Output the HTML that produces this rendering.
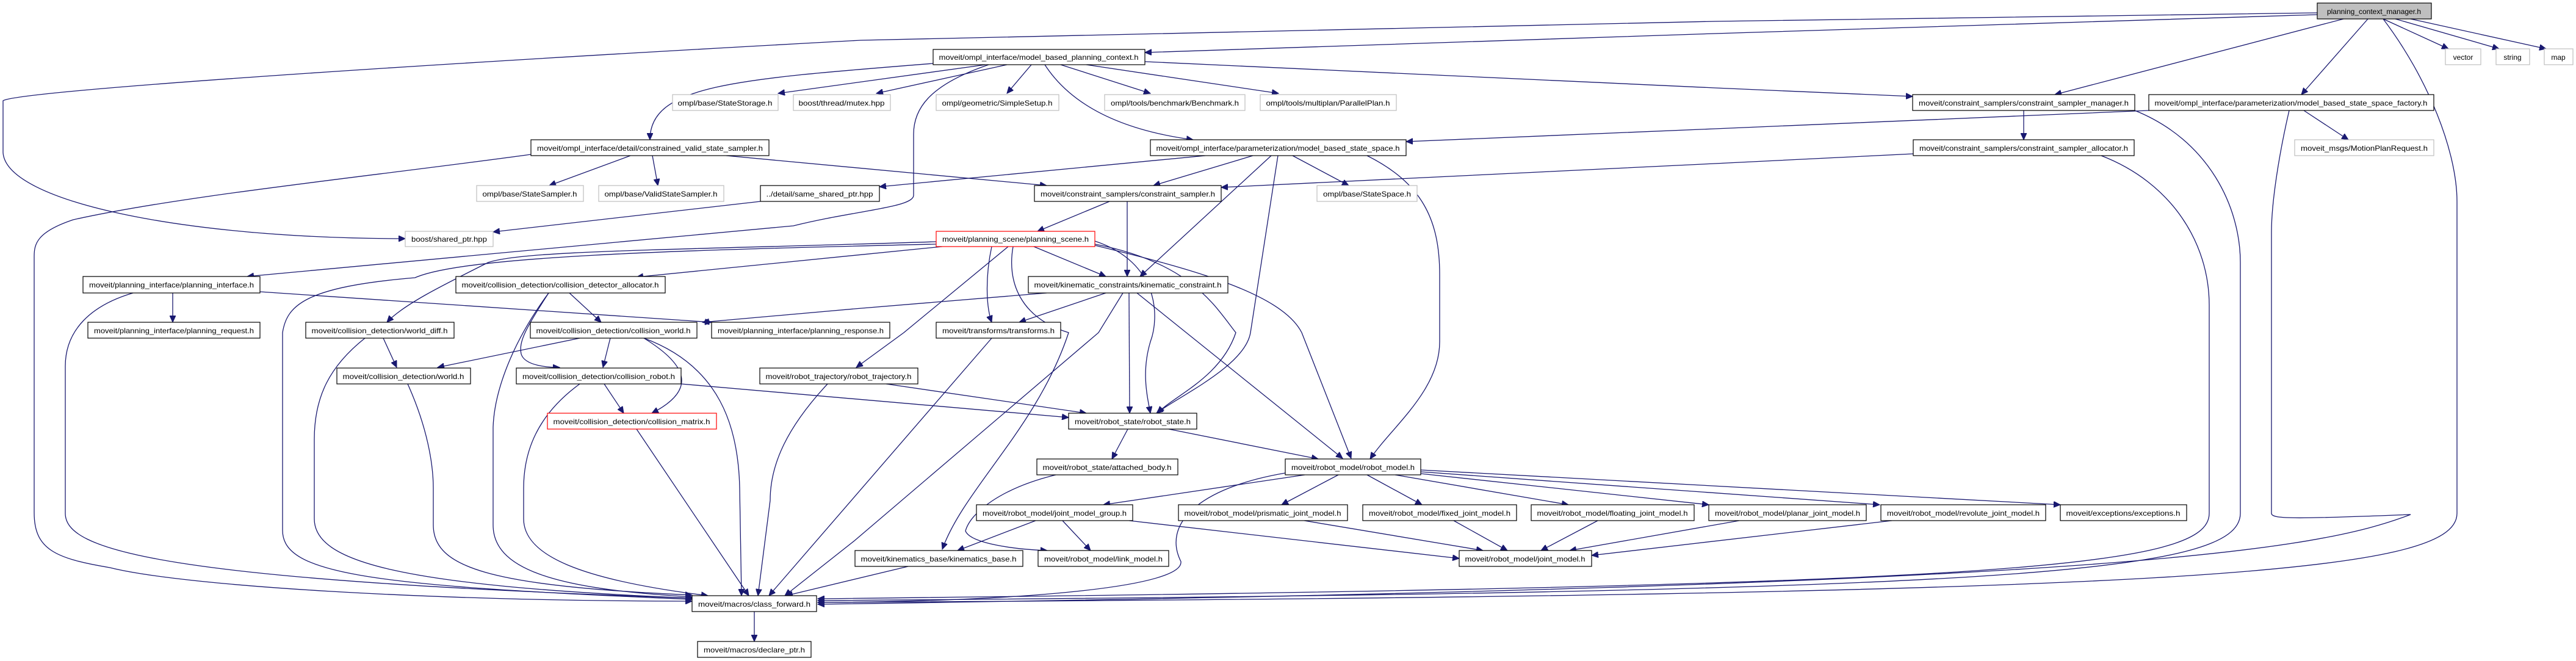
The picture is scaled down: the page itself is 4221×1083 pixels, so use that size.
<!DOCTYPE html>
<html><head><meta charset="utf-8"><style>
html,body{margin:0;padding:0;background:#fff;}
svg{display:block;}
text{font-family:"Liberation Sans",sans-serif;font-size:12px;fill:#000;}
.e{fill:none;stroke:#191970;stroke-width:1.3;}
.n{fill:#fff;stroke:#000;stroke-width:1.2;}
.g{fill:#fff;stroke:#bfbfbf;stroke-width:1.2;}
.r{fill:#fff;stroke:#ff0000;stroke-width:1.2;}
.m{fill:#bfbfbf;stroke:#000;stroke-width:1.2;}
</style></head><body>
<svg width="4221" height="1083" viewBox="0 0 4221 1083" xmlns="http://www.w3.org/2000/svg">
<defs><marker id="a" markerUnits="userSpaceOnUse" markerWidth="12" markerHeight="10" refX="11" refY="5" orient="auto"><path d="M0,0 L11,5 L0,10 z" fill="#191970" stroke="#191970"/></marker></defs>
<g class="e" marker-end="url(#a)">
<!-- PCM edges -->
<path d="M3797,21 L2810,35 L1410,66 C600,110 30,150 5,165 L5,250 C10,330 300,391 664,391"/>
<path d="M3797,24 L2810,55 L1876,86"/>
<path d="M3840,31 L3367,155"/>
<path d="M3880,31 L3771,155"/>
<path d="M3905,31 L4012,80"/>
<path d="M3925,31 L4095,80"/>
<path d="M3950,31 L4172,80"/>
<path d="M3905,31 C3980,130 4026,250 4026,330 L4026,841 C4026,940 3600,975 1340,987"/>
<!-- MBPC -->
<path d="M1529,104 C1200,130 1065,140 1065,229"/>
<path d="M1615,106 L1275,153"/>
<path d="M1650,106 L1436,153"/>
<path d="M1690,106 L1650,153"/>
<path d="M1738,106 L1885,153"/>
<path d="M1780,106 L2095,153"/>
<path d="M1712,106 C1760,180 1850,215 1955,229"/>
<path d="M1876,101 L2810,144 L3134,158"/>
<path d="M1620,106 C1520,140 1497,180 1497,220 L1497,320 C1497,340 1400,345 1300,370 L405,453"/>
<!-- constrained valid -->
<path d="M1033,255 L900,304"/>
<path d="M1069,255 L1078,304"/>
<path d="M1190,255 L1715,304"/>
<path d="M870,253 C600,290 300,320 120,360 C60,380 56,400 56,420 L56,840 C56,900 90,915 180,930 C300,960 700,985 1134,985"/>
<path d="M1246,330 L808,380"/>
<!-- model_based_state_space -->
<path d="M1975,255 L1441,306"/>
<path d="M2053,255 L1890,304"/>
<path d="M2083,255 L1868,453"/>
<path d="M2118,255 L2210,304"/>
<path d="M2094,255 L2049,545 C2040,600 1930,650 1895,677"/>
<path d="M2240,255 C2330,300 2359,360 2359,450 L2359,560 C2359,640 2280,700 2245,752"/>
<!-- CSM / factory / allocator -->
<path d="M3316,181 L3316,229"/>
<path d="M3498,181 C3620,230 3671,340 3671,430 L3671,841 C3671,940 3300,970 1340,984"/>
<path d="M3443,255 C3560,300 3620,400 3620,500 L3620,841 C3620,930 3300,960 1340,981"/>
<path d="M3751,181 C3735,250 3722,330 3722,380 L3722,841 C3722,850 3750,851 3950,843 C3800,900 3500,960 1340,990"/>
<path d="M3521,181 L2810,211 L2304,232"/>
<path d="M3775,181 L3848,229"/>
<path d="M3135,252 L2810,268 L2001,307"/>
<!-- constraint_sampler -->
<path d="M1818,330 L1700,379"/>
<path d="M1847,330 L1847,453"/>
<!-- planning_scene -->
<path d="M1544,404 L1043,454"/>
<path d="M1534,396 C1100,410 860,410 800,430 C720,470 660,500 634,528"/>
<path d="M1534,400 C1100,410 760,420 680,455 C500,470 470,500 463,545 L463,869 C463,940 600,960 1134,982"/>
<path d="M1625,404 C1615,450 1615,500 1625,528"/>
<path d="M1694,404 L1812,453"/>
<path d="M1652,404 L1481,545 L1403,602"/>
<path d="M1794,395 C1900,430 1900,520 1885,560 C1870,610 1880,650 1885,677"/>
<path d="M1794,400 C1950,430 1990,500 2025,545 C2000,620 1920,650 1897,677"/>
<path d="M1794,402 C1950,440 2100,480 2133,545 L2214,751"/>
<path d="M1660,404 C1650,460 1670,520 1751,545 C1700,700 1580,800 1544,900"/>
<!-- kinematic constraint -->
<path d="M1715,480 L1400,506 L1151,528"/>
<path d="M1812,480 L1670,528"/>
<path d="M1850,480 L1851,677"/>
<path d="M1863,480 L2200,751"/>
<path d="M1840,480 L1800,545 L1400,886 L1286,976"/>
<!-- planning interface -->
<path d="M283,480 L283,528"/>
<path d="M426,478 L1166,528"/>
<path d="M218,480 C150,500 107,540 107,600 L107,841 C107,900 250,950 1134,980"/>
<!-- collision detector allocator -->
<path d="M933,480 L985,528"/>
<path d="M899,480 C860,540 850,560 854,580 C860,600 900,602 917,602"/>
<path d="M899,480 C840,560 810,640 808,700 L808,860 C808,930 900,965 1134,978"/>
<!-- world diff -->
<path d="M628,554 L650,602"/>
<path d="M598,554 C540,600 515,650 515,720 L515,850 C515,920 650,960 1134,980"/>
<!-- collision world -->
<path d="M950,554 L717,602"/>
<path d="M1000,554 L988,602"/>
<path d="M1055,554 C1130,600 1140,640 1068,677"/>
<path d="M1055,554 C1180,600 1210,700 1212,800 L1215,976"/>
<!-- world -->
<path d="M668,629 C700,700 710,760 710,800 L710,860 C710,930 800,960 1134,975"/>
<!-- collision robot -->
<path d="M990,629 L1022,677"/>
<path d="M950,629 C880,680 858,740 858,800 L858,850 C858,910 950,950 1160,976"/>
<path d="M1116,629 L1751,684"/>
<path d="M1043,703 L1227,976"/>
<!-- robot trajectory -->
<path d="M1356,629 C1290,700 1262,760 1262,820 L1242,976"/>
<path d="M1452,629 L1780,677"/>
<path d="M1625,554 L1260,976"/>
<path d="M1488,928 L1288,976"/>
<!-- robot state -->
<path d="M1848,703 L1822,752"/>
<path d="M1915,703 L2160,752"/>
<path d="M1730,778 C1640,800 1590,840 1582,870 C1590,890 1660,900 1716,902"/>
<!-- robot model -->
<path d="M2106,775 C1960,800 1905,860 1935,920 C1940,960 1700,985 1340,987"/>
<path d="M2138,778 L1808,827"/>
<path d="M2193,778 L2100,827"/>
<path d="M2240,778 L2330,827"/>
<path d="M2286,778 L2570,827"/>
<path d="M2328,776 L2800,827"/>
<path d="M2328,773 L3080,827"/>
<path d="M2328,770 L3376,827"/>
<!-- joint model group -->
<path d="M1697,853 L1569,902"/>
<path d="M1741,853 L1787,902"/>
<path d="M1850,853 L2391,915"/>
<path d="M2137,853 L2430,902"/>
<path d="M2382,853 L2470,902"/>
<path d="M2618,853 L2525,902"/>
<path d="M2850,853 L2572,902"/>
<path d="M3100,853 L2608,910"/>
<path d="M1236,1002 L1236,1051"/>
</g>
<g>
<rect class="m" x="3797" y="5" width="187" height="26"/><text x="3890" y="23" text-anchor="middle">planning_context_manager.h</text>
<rect class="n" x="1529" y="81" width="347" height="25"/><text x="1702" y="98" text-anchor="middle" textLength="327" lengthAdjust="spacingAndGlyphs">moveit/ompl_interface/model_based_planning_context.h</text>
<rect class="g" x="4007" y="80" width="58" height="26"/><text x="4036" y="98" text-anchor="middle">vector</text>
<rect class="g" x="4090" y="80" width="55" height="26"/><text x="4117" y="98" text-anchor="middle">string</text>
<rect class="g" x="4169" y="80" width="47" height="26"/><text x="4192" y="98" text-anchor="middle">map</text>

<rect class="g" x="1102" y="155" width="173" height="26"/><text x="1188" y="173" text-anchor="middle" textLength="155" lengthAdjust="spacingAndGlyphs">ompl/base/StateStorage.h</text>
<rect class="g" x="1300" y="155" width="159" height="26"/><text x="1379" y="173" text-anchor="middle" textLength="141" lengthAdjust="spacingAndGlyphs">boost/thread/mutex.hpp</text>
<rect class="g" x="1534" y="155" width="201" height="26"/><text x="1634" y="173" text-anchor="middle" textLength="181" lengthAdjust="spacingAndGlyphs">ompl/geometric/SimpleSetup.h</text>
<rect class="g" x="1810" y="155" width="230" height="26"/><text x="1925" y="173" text-anchor="middle" textLength="210" lengthAdjust="spacingAndGlyphs">ompl/tools/benchmark/Benchmark.h</text>
<rect class="g" x="2065" y="155" width="223" height="26"/><text x="2176" y="173" text-anchor="middle" textLength="203" lengthAdjust="spacingAndGlyphs">ompl/tools/multiplan/ParallelPlan.h</text>
<rect class="n" x="3134" y="155" width="364" height="26"/><text x="3316" y="173" text-anchor="middle" textLength="344" lengthAdjust="spacingAndGlyphs">moveit/constraint_samplers/constraint_sampler_manager.h</text>
<rect class="n" x="3521" y="155" width="467" height="26"/><text x="3754" y="173" text-anchor="middle" textLength="447" lengthAdjust="spacingAndGlyphs">moveit/ompl_interface/parameterization/model_based_state_space_factory.h</text>

<rect class="n" x="870" y="229" width="390" height="26"/><text x="1065" y="247" text-anchor="middle" textLength="370" lengthAdjust="spacingAndGlyphs">moveit/ompl_interface/detail/constrained_valid_state_sampler.h</text>
<rect class="n" x="1885" y="229" width="419" height="26"/><text x="2094" y="247" text-anchor="middle" textLength="399" lengthAdjust="spacingAndGlyphs">moveit/ompl_interface/parameterization/model_based_state_space.h</text>
<rect class="n" x="3135" y="229" width="362" height="26"/><text x="3316" y="247" text-anchor="middle" textLength="342" lengthAdjust="spacingAndGlyphs">moveit/constraint_samplers/constraint_sampler_allocator.h</text>
<rect class="g" x="3760" y="229" width="228" height="26"/><text x="3874" y="247" text-anchor="middle" textLength="208" lengthAdjust="spacingAndGlyphs">moveit_msgs/MotionPlanRequest.h</text>

<rect class="g" x="781" y="304" width="175" height="26"/><text x="868" y="322" text-anchor="middle" textLength="155" lengthAdjust="spacingAndGlyphs">ompl/base/StateSampler.h</text>
<rect class="g" x="981" y="304" width="205" height="26"/><text x="1083" y="322" text-anchor="middle" textLength="185" lengthAdjust="spacingAndGlyphs">ompl/base/ValidStateSampler.h</text>
<rect class="n" x="1246" y="304" width="195" height="26"/><text x="1343" y="322" text-anchor="middle" textLength="175" lengthAdjust="spacingAndGlyphs">../detail/same_shared_ptr.hpp</text>
<rect class="n" x="1695" y="304" width="306" height="26"/><text x="1848" y="322" text-anchor="middle" textLength="286" lengthAdjust="spacingAndGlyphs">moveit/constraint_samplers/constraint_sampler.h</text>
<rect class="g" x="2158" y="304" width="164" height="26"/><text x="2240" y="322" text-anchor="middle" textLength="144" lengthAdjust="spacingAndGlyphs">ompl/base/StateSpace.h</text>

<rect class="g" x="664" y="379" width="144" height="25"/><text x="736" y="396" text-anchor="middle" textLength="124" lengthAdjust="spacingAndGlyphs">boost/shared_ptr.hpp</text>
<rect class="r" x="1534" y="379" width="260" height="25"/><text x="1664" y="396" text-anchor="middle" textLength="240" lengthAdjust="spacingAndGlyphs">moveit/planning_scene/planning_scene.h</text>

<rect class="n" x="136" y="453" width="290" height="27"/><text x="281" y="471" text-anchor="middle" textLength="270" lengthAdjust="spacingAndGlyphs">moveit/planning_interface/planning_interface.h</text>
<rect class="n" x="747" y="453" width="343" height="27"/><text x="918" y="471" text-anchor="middle" textLength="323" lengthAdjust="spacingAndGlyphs">moveit/collision_detection/collision_detector_allocator.h</text>
<rect class="n" x="1685" y="453" width="327" height="27"/><text x="1848" y="471" text-anchor="middle" textLength="307" lengthAdjust="spacingAndGlyphs">moveit/kinematic_constraints/kinematic_constraint.h</text>

<rect class="n" x="144" y="528" width="282" height="26"/><text x="285" y="546" text-anchor="middle" textLength="262" lengthAdjust="spacingAndGlyphs">moveit/planning_interface/planning_request.h</text>
<rect class="n" x="501" y="528" width="243" height="26"/><text x="622" y="546" text-anchor="middle" textLength="223" lengthAdjust="spacingAndGlyphs">moveit/collision_detection/world_diff.h</text>
<rect class="n" x="869" y="528" width="273" height="26"/><text x="1005" y="546" text-anchor="middle" textLength="253" lengthAdjust="spacingAndGlyphs">moveit/collision_detection/collision_world.h</text>
<rect class="n" x="1166" y="528" width="292" height="26"/><text x="1312" y="546" text-anchor="middle" textLength="272" lengthAdjust="spacingAndGlyphs">moveit/planning_interface/planning_response.h</text>
<rect class="n" x="1534" y="528" width="204" height="26"/><text x="1636" y="546" text-anchor="middle" textLength="184" lengthAdjust="spacingAndGlyphs">moveit/transforms/transforms.h</text>

<rect class="n" x="552" y="603" width="219" height="26"/><text x="661" y="621" text-anchor="middle" textLength="199" lengthAdjust="spacingAndGlyphs">moveit/collision_detection/world.h</text>
<rect class="n" x="846" y="603" width="270" height="26"/><text x="981" y="621" text-anchor="middle" textLength="250" lengthAdjust="spacingAndGlyphs">moveit/collision_detection/collision_robot.h</text>
<rect class="n" x="1245" y="603" width="259" height="26"/><text x="1374" y="621" text-anchor="middle" textLength="239" lengthAdjust="spacingAndGlyphs">moveit/robot_trajectory/robot_trajectory.h</text>

<rect class="r" x="897" y="677" width="277" height="26"/><text x="1035" y="695" text-anchor="middle" textLength="257" lengthAdjust="spacingAndGlyphs">moveit/collision_detection/collision_matrix.h</text>
<rect class="n" x="1751" y="677" width="210" height="26"/><text x="1856" y="695" text-anchor="middle" textLength="190" lengthAdjust="spacingAndGlyphs">moveit/robot_state/robot_state.h</text>

<rect class="n" x="1699" y="752" width="231" height="26"/><text x="1814" y="770" text-anchor="middle" textLength="211" lengthAdjust="spacingAndGlyphs">moveit/robot_state/attached_body.h</text>
<rect class="n" x="2106" y="752" width="222" height="26"/><text x="2217" y="770" text-anchor="middle" textLength="202" lengthAdjust="spacingAndGlyphs">moveit/robot_model/robot_model.h</text>

<rect class="n" x="1600" y="827" width="256" height="26"/><text x="1728" y="845" text-anchor="middle" textLength="236" lengthAdjust="spacingAndGlyphs">moveit/robot_model/joint_model_group.h</text>
<rect class="n" x="1931" y="827" width="277" height="26"/><text x="2069" y="845" text-anchor="middle" textLength="257" lengthAdjust="spacingAndGlyphs">moveit/robot_model/prismatic_joint_model.h</text>
<rect class="n" x="2233" y="827" width="252" height="26"/><text x="2359" y="845" text-anchor="middle" textLength="232" lengthAdjust="spacingAndGlyphs">moveit/robot_model/fixed_joint_model.h</text>
<rect class="n" x="2509" y="827" width="267" height="26"/><text x="2642" y="845" text-anchor="middle" textLength="247" lengthAdjust="spacingAndGlyphs">moveit/robot_model/floating_joint_model.h</text>
<rect class="n" x="2800" y="827" width="258" height="26"/><text x="2929" y="845" text-anchor="middle" textLength="238" lengthAdjust="spacingAndGlyphs">moveit/robot_model/planar_joint_model.h</text>
<rect class="n" x="3082" y="827" width="270" height="26"/><text x="3217" y="845" text-anchor="middle" textLength="250" lengthAdjust="spacingAndGlyphs">moveit/robot_model/revolute_joint_model.h</text>
<rect class="n" x="3376" y="827" width="207" height="26"/><text x="3479" y="845" text-anchor="middle" textLength="187" lengthAdjust="spacingAndGlyphs">moveit/exceptions/exceptions.h</text>

<rect class="n" x="1401" y="902" width="275" height="26"/><text x="1538" y="920" text-anchor="middle" textLength="255" lengthAdjust="spacingAndGlyphs">moveit/kinematics_base/kinematics_base.h</text>
<rect class="n" x="1701" y="902" width="214" height="26"/><text x="1808" y="920" text-anchor="middle" textLength="194" lengthAdjust="spacingAndGlyphs">moveit/robot_model/link_model.h</text>
<rect class="n" x="2391" y="902" width="217" height="26"/><text x="2499" y="920" text-anchor="middle" textLength="197" lengthAdjust="spacingAndGlyphs">moveit/robot_model/joint_model.h</text>

<rect class="n" x="1134" y="976" width="204" height="26"/><text x="1236" y="994" text-anchor="middle" textLength="184" lengthAdjust="spacingAndGlyphs">moveit/macros/class_forward.h</text>
<rect class="n" x="1143" y="1051" width="186" height="26"/><text x="1236" y="1069" text-anchor="middle" textLength="166" lengthAdjust="spacingAndGlyphs">moveit/macros/declare_ptr.h</text>
</g>
</svg>
</body></html>
